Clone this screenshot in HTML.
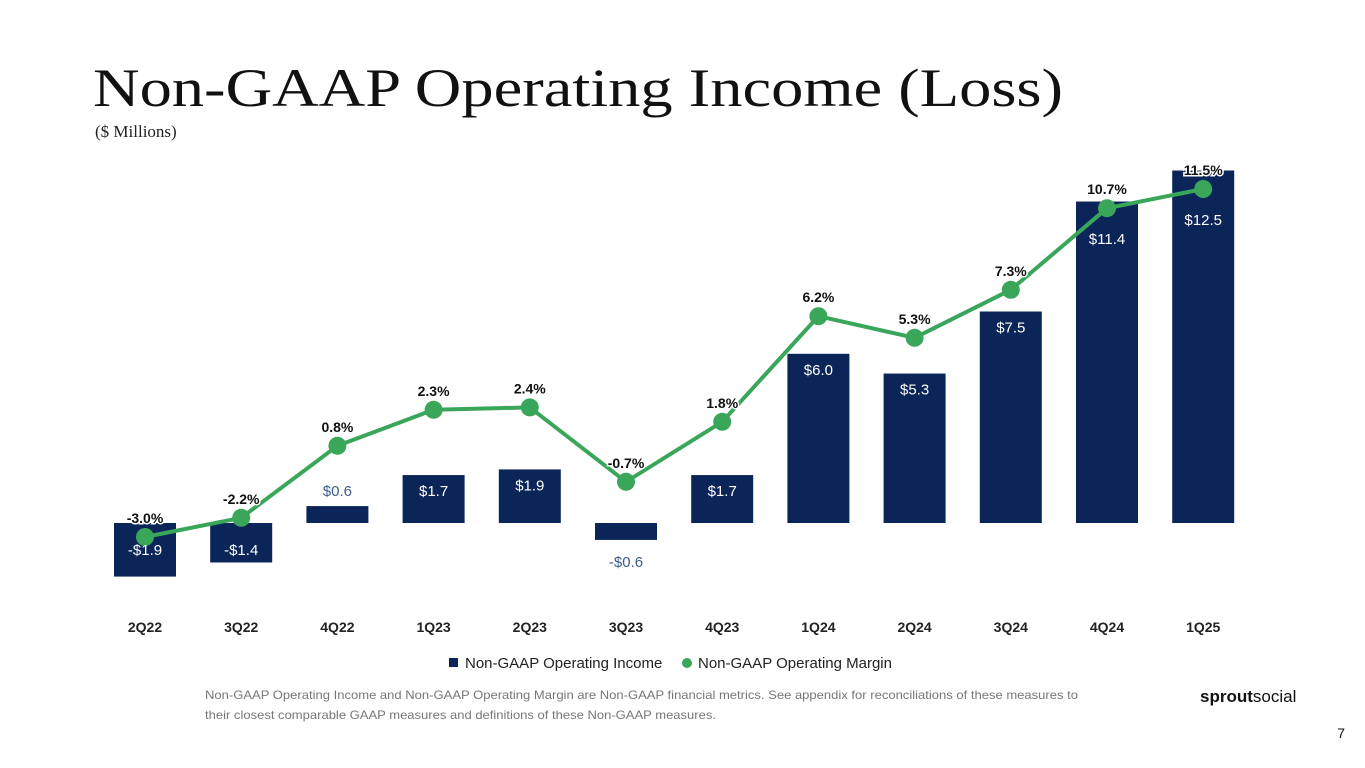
<!DOCTYPE html>
<html><head><meta charset="utf-8"><style>
html,body{margin:0;padding:0;background:#fff;}
svg{display:block;font-family:"Liberation Sans",sans-serif;}
</style></head><body>
<svg id="c" width="1365" height="768" viewBox="0 0 1365 768">
<text x="93" y="106" font-family="Liberation Serif, serif" font-size="54" fill="#111" textLength="970" lengthAdjust="spacingAndGlyphs">Non-GAAP Operating Income (Loss)</text>
<text x="95" y="137" font-family="Liberation Serif, serif" font-size="17" fill="#222">($ Millions)</text>
<g id="bars"></g><g id="line"></g><g id="labels"></g>
<g>
<rect x="449" y="658" width="9" height="9" fill="#0b2559"/>
<text x="465" y="668" font-size="15" fill="#222">Non-GAAP Operating Income</text>
<circle cx="687" cy="663" r="5" fill="#3aa65a"/>
<text x="698" y="668" font-size="15" fill="#222">Non-GAAP Operating Margin</text>
</g>
<text x="205" y="699" font-size="12" fill="#777" textLength="873" lengthAdjust="spacingAndGlyphs">Non-GAAP Operating Income and Non-GAAP Operating Margin are Non-GAAP financial metrics. See appendix for reconciliations of these measures to</text>
<text x="205" y="719" font-size="12" fill="#777" textLength="511" lengthAdjust="spacingAndGlyphs">their closest comparable GAAP measures and definitions of these Non-GAAP measures.</text>
<text x="1200" y="702" font-size="17" fill="#111"><tspan font-weight="bold">sprout</tspan>social</text>
<text x="1345" y="738" font-size="14" fill="#111" text-anchor="end">7</text>
</svg>
<script>
const categories=["2Q22","3Q22","4Q22","1Q23","2Q23","3Q23","4Q23","1Q24","2Q24","3Q24","4Q24","1Q25"];
const income=[-1.9,-1.4,0.6,1.7,1.9,-0.6,1.7,6.0,5.3,7.5,11.4,12.5];
const margin=[-3.0,-2.2,0.8,2.3,2.4,-0.7,1.8,6.2,5.3,7.3,10.7,11.5];
const NS="http://www.w3.org/2000/svg";
const xPos=i=>145+i*96.2;
const yInc=v=>523-v*28.2;
const yMar=v=>465-v*24;
function mk(tag,attrs,parent,txt){const e=document.createElementNS(NS,tag);for(const k in attrs)e.setAttribute(k,attrs[k]);if(txt!==undefined)e.textContent=txt;parent.appendChild(e);return e;}
const gb=document.getElementById('bars'),gl=document.getElementById('line'),gt=document.getElementById('labels');
income.forEach((v,i)=>{
 const x=xPos(i),y0=yInc(0),y1=yInc(v);
 const r=mk('rect',{x:x-31,y:Math.min(y0,y1),width:62,height:Math.abs(y1-y0),fill:'#0b2559'},gb);
 
 
 const s=(v<0?'-$':'$')+Math.abs(v).toFixed(1);
 let ly,fill='#fff';
 if(v>=0&&v<1){ly=y1-10;fill='#3d5a8a';}
 else if(v<0&&v>-1){ly=y0+Math.abs(y1-y0)+27;fill='#3d5a8a';}
 else if(v<0){ly=y0+32;}
 else{ly=y1+21;const py=yMar(margin[i]);if(ly<py+28)ly=py+36;}
 const t=mk('text',{x:x,y:ly,'text-anchor':'middle','font-size':15,fill:fill},gt,s);
 
 
 const c=mk('text',{x:x,y:632,'text-anchor':'middle','font-size':14,'font-weight':'bold',fill:'#222'},gt,categories[i]);
 
 
});
const pts=margin.map((m,i)=>xPos(i)+','+yMar(m)).join(' ');
const pl=mk('polyline',{points:pts,fill:'none',stroke:'#3aa65a','stroke-width':4,'stroke-linejoin':'round'},gl);


margin.forEach((m,i)=>{
 const p=mk('circle',{cx:xPos(i),cy:yMar(m),r:9,fill:'#3aa65a'},gl);
 
 
 const t=mk('text',{x:xPos(i),y:yMar(m)-14,'text-anchor':'middle','font-size':14,'font-weight':'bold',fill:'#111',stroke:'#fff','stroke-width':3,'paint-order':'stroke'},gl,m.toFixed(1)+'%');
 
 
});
</script>
</body></html>
